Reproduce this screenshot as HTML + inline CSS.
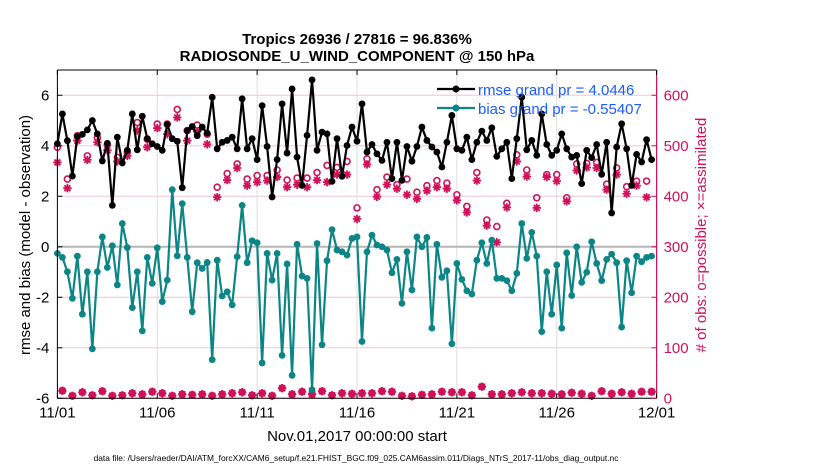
<!DOCTYPE html>
<html><head><meta charset="utf-8"><style>
body{margin:0;background:#fff;}
svg{display:block;font-family:"Liberation Sans",sans-serif;}
</style></head><body>
<svg id="c" width="830" height="470" viewBox="0 0 830 470">
<text x="357" y="44" text-anchor="middle" font-size="15" font-weight="bold">Tropics 26936 / 27816 = 96.836%</text>
<text x="357" y="61" text-anchor="middle" font-size="15" font-weight="bold">RADIOSONDE_U_WIND_COMPONENT @ 150 hPa</text>
<g id="grid"></g>
<g id="marks"></g>
<g id="axes"></g>
<text transform="translate(30,235) rotate(-90)" text-anchor="middle" font-size="15">rmse and bias (model - observation)</text>
<text transform="translate(706,235) rotate(-90)" text-anchor="middle" font-size="15" fill="#d0115a"># of obs: o=possible; ×=assimilated</text>
<text x="357" y="441" text-anchor="middle" font-size="15">Nov.01,2017 00:00:00 start</text>
<text x="356" y="461" text-anchor="middle" font-size="8.4">data file: /Users/raeder/DAI/ATM_forcXX/CAM6_setup/f.e21.FHIST_BGC.f09_025.CAM6assim.011/Diags_NTrS_2017-11/obs_diag_output.nc</text>
<g>
<g>
<line x1="437" y1="89" x2="475" y2="89" stroke="#000" stroke-width="2.2"/><circle cx="456" cy="89" r="3.5" fill="#000"/>
<text x="478" y="95" font-size="15" fill="#1a5cff">rmse grand pr = 4.0446</text></g>
<g>
<line x1="437" y1="108" x2="475" y2="108" stroke="#0b8585" stroke-width="2.2"/><circle cx="456" cy="108" r="3.5" fill="#0b8585"/>
<text x="478" y="114" font-size="15" fill="#1a5cff">bias grand pr = -0.55407</text></g>
</g>
</svg>
<script>
const rmse=[4.08,5.26,4.2,2.8,4.37,4.45,4.63,5.0,4.47,3.4,4.1,1.64,4.34,3.32,3.82,5.26,3.84,5.17,4.28,4.08,3.97,3.82,4.84,4.28,4.18,2.34,4.6,4.76,4.4,4.74,
4.5,5.92,3.88,4.14,4.21,4.34,3.88,5.86,3.88,4.28,3.45,5.59,3.97,1.97,3.45,5.66,3.71,6.25,3.55,2.43,4.41,6.61,3.82,4.54,4.47,2.59,4.28,2.79,4.01,4.74,
4.18,5.66,3.75,4.05,3.68,3.42,4.14,2.7,4.14,2.63,3.97,3.39,3.97,4.74,4.21,3.95,3.75,3.16,4.14,5.2,3.88,3.82,4.34,3.45,4.14,4.58,4.21,4.71,3.58,3.88,
4.14,2.7,4.28,5.92,3.84,4.21,3.62,5.26,4.05,3.62,3.82,4.47,3.88,3.55,3.62,2.5,3.82,3.53,4.05,2.87,4.14,1.34,3.95,4.87,3.88,2.43,3.66,3.36,4.24,3.45];
const bias=[-0.26,-0.42,-0.99,-2.04,-0.37,-2.67,-0.99,-4.04,-0.99,0.39,-0.82,0.04,-1.51,0.92,-0.03,-2.41,-0.99,-3.33,-0.42,-1.45,-0.04,-2.17,-1.32,2.26,-0.36,1.71,-0.42,-2.57,-0.63,-0.86,
-0.62,-4.47,-0.53,-1.95,-1.78,-2.3,-0.39,1.64,-0.63,0.24,0.16,-4.6,-0.26,-1.32,-0.26,-4.3,-0.68,-5.09,0.1,-1.16,-1.25,-5.66,0.13,-3.88,-0.55,0.68,-0.13,-0.2,-0.33,0.33,
0.39,-3.75,-0.2,0.46,0.07,0,-0.13,-1.03,-0.5,-2.24,-0.2,-1.71,0.39,0,0.37,-3.22,0.1,-1.21,-0.95,-3.84,-0.66,-1.29,-1.74,-1.87,-0.53,0.16,-0.66,0.26,-1.25,-1.25,
-1.34,-1.74,-1.05,0.92,-0.46,0.57,-0.37,-3.36,-0.99,-2.67,-0.72,-3.22,-0.24,-1.93,0,-1.41,-1.01,0.2,-0.66,-1.34,-0.5,-0.29,-0.63,-3.18,-0.55,-1.82,-0.37,-0.59,-0.42,-0.37];
const possibleEven=[497,434,520,480,516,502,477,487,546,513,543,543,572,530,541,523,418,445,464,434,441,441,452,432,436,436,447,461,457,469,
377,474,413,438,423,434,408,421,431,426,403,380,447,353,340,386,482,452,397,443,443,397,464,465,467,424,456,419,430,430];
const assimEven=[467,416,510,472,507,491,469,480,530,497,535,523,556,510,528,503,398,432,456,421,428,431,438,418,423,418,432,428,443,443,
355,463,399,423,415,403,395,411,418,415,392,368,431,342,309,378,469,439,377,438,430,390,451,457,456,413,443,405,421,398];
const countsOdd=[15,5,12,6,14,5,6,10,8,13,10,5,8,7,8,5,8,10,12,6,10,5,20,8,13,8,14,6,10,9,
10,10,14,13,5,4,7,8,13,12,12,6,23,8,8,10,12,10,10,9,8,11,9,5,14,9,12,9,13,13];
const xTickLabels=['11/01','11/06','11/11','11/16','11/21','11/26','12/01'];
const xTickDays=[0,5,10,15,20,25,30];
const yLeftTicks=[-6,-4,-2,0,2,4,6];
const yRightTicks=[0,100,200,300,400,500,600];

const X0=57.4,X1=656.6,Y0=70,Y1=398.3;
const xS=d=>X0+d*(X1-X0)/30;
const yL=v=>Y1-(v+6)*(Y1-Y0)/13;
const yR=n=>Y1-n*(Y1-Y0)/650;
const NS='http://www.w3.org/2000/svg';
function mk(tag,attrs,parent){const e=document.createElementNS(NS,tag);for(const k in attrs)e.setAttribute(k,attrs[k]);parent.appendChild(e);return e;}
const grid=document.getElementById('grid'),marks=document.getElementById('marks'),axes=document.getElementById('axes');
const CR='#d0115a',TEAL='#0b8585';
mk('rect',{x:X0,y:Y0,width:X1-X0,height:Y1-Y0,fill:'#fff'},grid);
yLeftTicks.forEach(v=>{if(v===0)return;const l=mk('line',{x1:X0,x2:X1,y1:yL(v),y2:yL(v),stroke:'#f2c6d6','stroke-width':1},grid);

});
xTickDays.forEach(d=>{const l=mk('line',{x1:xS(d),x2:xS(d),y1:Y0,y2:Y1,stroke:'#dcdcdc','stroke-width':1},grid);

});
const zl=mk('line',{x1:X0,x2:X1,y1:yL(0),y2:yL(0),stroke:'#b5b5b5','stroke-width':2},grid);



const N=rmse.length;
const tday=i=>i*0.25;
const possible=[],assim=[];
for(let i=0;i<N;i++){if(i%2===0){possible.push(possibleEven[i/2]);assim.push(assimEven[i/2]);}else{possible.push(countsOdd[(i-1)/2]);assim.push(countsOdd[(i-1)/2]);}}
function star(cx,cy,r,g){let d='';[0,45,90,135].forEach(a=>{const rad=a*Math.PI/180,dx=r*Math.cos(rad),dy=r*Math.sin(rad);d+=`M${cx-dx},${cy-dy}L${cx+dx},${cy+dy}`;});return mk('path',{d:d,stroke:CR,'stroke-width':1.8,fill:'none'},g);}
const gObs=mk('g',{},marks);


for(let i=0;i<N;i++){const x=xS(tday(i));
 const c=mk('circle',{cx:x,cy:yR(possible[i]),r:3,fill:'#fff',stroke:CR,'stroke-width':1.6},gObs);
 
 
 const s=star(x,yR(assim[i]),4.2,gObs);
 
 }
function series(vals,col,name){const g=mk('g',{},marks);
 
 
 const pts=vals.map((v,i)=>xS(tday(i))+','+yL(v)).join(' ');
 mk('polyline',{points:pts,fill:'none',stroke:col,'stroke-width':2.2,'stroke-linejoin':'round'},g);
 vals.forEach((v,i)=>{const c=mk('circle',{cx:xS(tday(i)),cy:yL(v),r:3.4,fill:col},g);
 
 });}
series(bias,TEAL,'bias-series');
series(rmse,'#000','rmse-series');

mk('line',{x1:X0,x2:X1,y1:Y0,y2:Y0,stroke:'#000','stroke-width':1},axes);
mk('line',{x1:X0,x2:X1,y1:Y1,y2:Y1,stroke:'#000','stroke-width':1},axes);
mk('line',{x1:X0,x2:X0,y1:Y0,y2:Y1,stroke:'#000','stroke-width':1},axes);
mk('line',{x1:X1,x2:X1,y1:Y0,y2:Y1,stroke:CR,'stroke-width':1.2},axes);
yLeftTicks.forEach(v=>{mk('line',{x1:X0,x2:X0+5,y1:yL(v),y2:yL(v),stroke:'#000'},axes);
 const t=mk('text',{x:X0-8,y:yL(v)+5,'text-anchor':'end','font-size':15},axes);t.textContent=v;
 
 });
yRightTicks.forEach(n=>{mk('line',{x1:X1-5,x2:X1,y1:yR(n),y2:yR(n),stroke:CR},axes);
 const t=mk('text',{x:X1+7,y:yR(n)+5,'font-size':15,fill:CR},axes);t.textContent=n;
 
 });
xTickDays.forEach((d,k)=>{mk('line',{x1:xS(d),x2:xS(d),y1:Y1,y2:Y1-5,stroke:'#000'},axes);mk('line',{x1:xS(d),x2:xS(d),y1:Y0,y2:Y0+5,stroke:'#000'},axes);
 const t=mk('text',{x:xS(d),y:Y1+19,'text-anchor':'middle','font-size':15},axes);t.textContent=xTickLabels[k];
 
 });
</script>
</body></html>
